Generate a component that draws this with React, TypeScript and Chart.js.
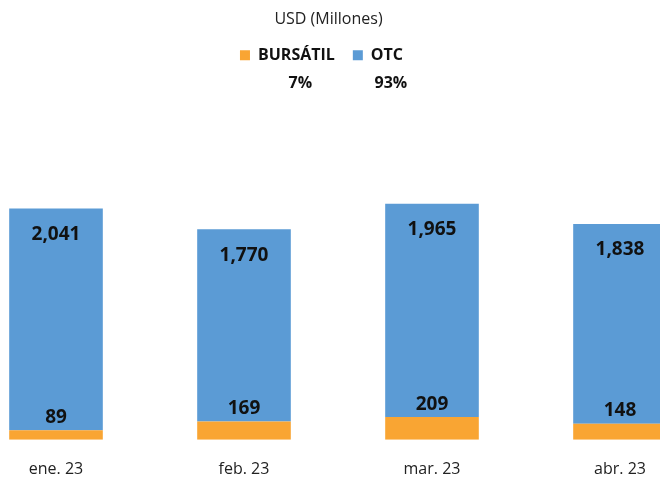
import React, { useEffect, useRef } from "react";
import { Chart, registerables } from "chart.js";

Chart.register(...registerables);

const categories = ["ene. 23", "feb. 23", "mar. 23", "abr. 23"];
const bursatilValues = [89, 169, 209, 148];
const otcValues = [2041, 1770, 1965, 1838];
const seriesNames = ["BURSÁTIL", "OTC"];
const shareLabels = ["7%", "93%"];
const titleText = "USD (Millones)";

const ORANGE = "#F9A533";
const BLUE = "#5B9BD5";
const FONT = "'Open Sans', 'Noto Sans', sans-serif";

const fmt = (v: number) => v.toLocaleString("en-US");

const legendShift = {
  id: "legendShift",
  afterUpdate(chart: any) {
    const lg = chart.legend;
    if (!lg) return;
    const dx = -7;
    lg.left += dx;
    lg.right += dx;
    (lg.legendHitBoxes || []).forEach((h: any) => (h.left += dx));
  },
};

const shareLabelsPlugin = {
  id: "shareLabels",
  afterDraw(chart: any) {
    const lg = chart.legend;
    if (!lg || !lg.legendHitBoxes) return;
    const ctx = chart.ctx;
    ctx.save();
    ctx.font = `bold 16px ${FONT}`;
    ctx.fillStyle = "#111";
    ctx.textAlign = "center";
    ctx.textBaseline = "middle";
    lg.legendHitBoxes.forEach((h: any, i: number) => {
      const textStart = h.left + 10 + 8;
      const textW = h.width - 18;
      const x = textStart + textW / 2 + 4;
      const y = h.top + h.height / 2 + 28;
      ctx.fillText(shareLabels[i], x, y);
    });
    ctx.restore();
  },
};

const barLabels = {
  id: "barLabels",
  afterDatasetsDraw(chart: any) {
    const ctx = chart.ctx;
    ctx.save();
    ctx.font = `bold 19px ${FONT}`;
    ctx.fillStyle = "#111";
    ctx.textAlign = "center";
    ctx.textBaseline = "middle";
    chart.data.datasets.forEach((ds: any, di: number) => {
      const meta = chart.getDatasetMeta(di);
      meta.data.forEach((el: any, i: number) => {
        const v = ds.data[i];
        const y = di === 1 ? el.y + 26 : el.y - 13;
        ctx.fillText(fmt(v), el.x, y);
      });
    });
    ctx.restore();
  },
};

export default function App() {
  const ref = useRef<HTMLCanvasElement>(null);
  useEffect(() => {
    document.body.style.margin = "0";
    document.body.style.overflow = "hidden";
    if (!ref.current) return;
    const chart = new Chart(ref.current, {
      type: "bar",
      data: {
        labels: categories,
        datasets: [
          {
            label: seriesNames[0],
            data: bursatilValues,
            backgroundColor: ORANGE,
            borderWidth: 0,
            categoryPercentage: 1,
            barPercentage: 0.498,
          },
          {
            label: seriesNames[1],
            data: otcValues,
            backgroundColor: BLUE,
            borderWidth: 0,
            categoryPercentage: 1,
            barPercentage: 0.498,
          },
        ],
      },
      options: {
        responsive: false,
        animation: false,
        devicePixelRatio: 1,
        layout: { padding: { top: 0, bottom: -12, left: 0, right: 0 } },
        plugins: {
          title: {
            display: true,
            text: titleText,
            color: "#222",
            font: { family: FONT, size: 16, weight: "normal" },
            padding: { top: 10, bottom: 0 },
          },
          legend: {
            display: true,
            position: "top",
            labels: {
              boxWidth: 10,
              boxHeight: 10,
              padding: 18,
              color: "#111",
              font: { family: FONT, size: 16, weight: "bold" },
            },
          },
          tooltip: { enabled: false },
        },
        scales: {
          x: {
            stacked: true,
            grid: { display: false },
            border: { display: false },
            ticks: {
              color: "#222",
              padding: 12,
              font: { family: FONT, size: 16 },
            },
          },
          y: {
            stacked: true,
            min: 0,
            max: 3375,
            grid: { display: false },
            border: { display: false },
            ticks: { display: false },
            afterFit: (s: any) => {
              s.width = 19;
            },
          },
        },
      },
      plugins: [legendShift, shareLabelsPlugin, barLabels],
    });
    return () => chart.destroy();
  }, []);

  return (
    <div style={{ position: "relative", width: 660, height: 479, overflow: "hidden", background: "#fff" }}>
      <canvas
        ref={ref}
        width={771}
        height={479}
        style={{ position: "absolute", left: -57, top: 0, width: 771, height: 479 }}
      />
    </div>
  );
}
